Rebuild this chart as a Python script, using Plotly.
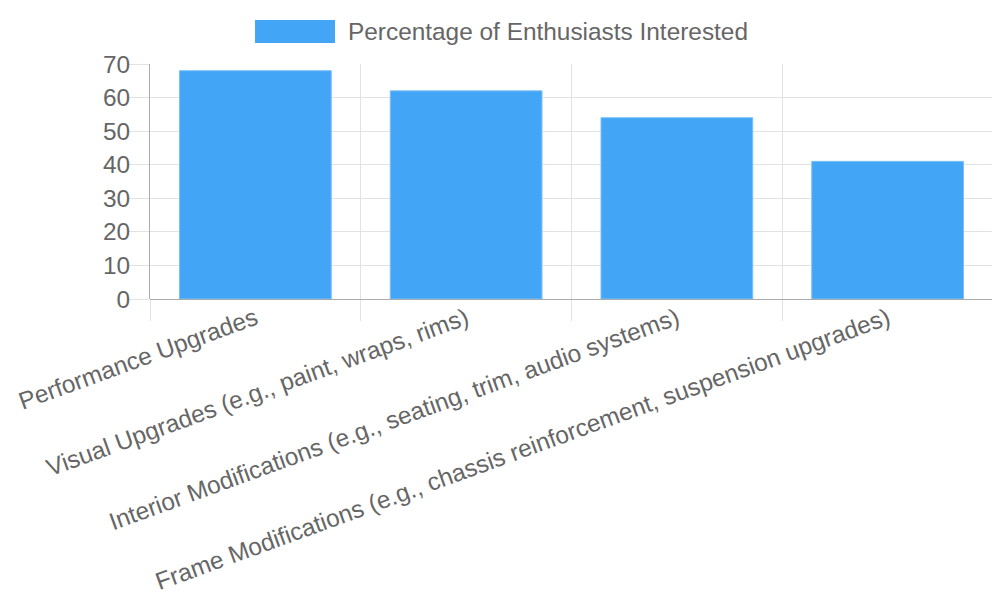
import plotly.graph_objects as go

# data
categories = [
    "Performance Upgrades",
    "Visual Upgrades (e.g., paint, wraps, rims)",
    "Interior Modifications (e.g., seating, trim, audio systems)",
    "Frame Modifications (e.g., chassis reinforcement, suspension upgrades)",
]
interest_pct = [68, 62, 54, 41]
series_name = "Percentage of Enthusiasts Interested"
y_ticks = [0, 10, 20, 30, 40, 50, 60, 70]

bar_color = "#42A5F5"
text_color = "#666666"
grid_color = "#e2e2e2"
axis_color = "#aaaaaa"
font_family = "Liberation Sans, Arial, sans-serif"
font_size = 24.4

fig = go.Figure()

fig.add_trace(go.Bar(
    x=categories,
    y=interest_pct,
    name=series_name,
    marker=dict(color=bar_color, line=dict(color="#7cc0f8", width=1)),
    showlegend=False,
))

# legend drawn chart.js style: wide box + label
fig.add_shape(
    type="rect", xref="paper", yref="paper",
    x0=0.1246, x1=0.2195, y0=1.089, y1=1.187,
    fillcolor=bar_color, line=dict(width=0),
)
fig.add_annotation(
    xref="paper", yref="paper", x=0.2325, y=1.138,
    xanchor="left", yanchor="middle", showarrow=False,
    text=series_name, font=dict(size=font_size, color=text_color, family=font_family),
)

# page body has an 8px margin, so margins are shifted to compensate
fig.update_layout(
    width=1000, height=600,
    margin=dict(l=142, r=15, t=56, b=309),
    paper_bgcolor="white",
    plot_bgcolor="white",
    font=dict(family=font_family, size=font_size, color=text_color),
    bargap=0.28,
)

fig.update_xaxes(
    type="category",
    automargin=False,
    tickangle=-20,
    tickson="boundaries",
    ticks="outside",
    ticklen=21,
    tickcolor=grid_color,
    showgrid=True,
    gridcolor=grid_color,
    gridwidth=1,
    showline=False,
    tickfont=dict(size=font_size, color=text_color),
)

fig.update_yaxes(
    range=[0, 70],
    automargin=False,
    tickvals=y_ticks,
    ticks="outside",
    ticklen=20,
    ticklabelstandoff=-6,
    tickcolor=grid_color,
    showgrid=True,
    gridcolor=grid_color,
    gridwidth=1,
    showline=True,
    linecolor=axis_color,
    linewidth=1,
    zeroline=True,
    zerolinecolor=axis_color,
    zerolinewidth=1,
    tickfont=dict(size=font_size, color=text_color),
)

fig.write_html("out.html")
